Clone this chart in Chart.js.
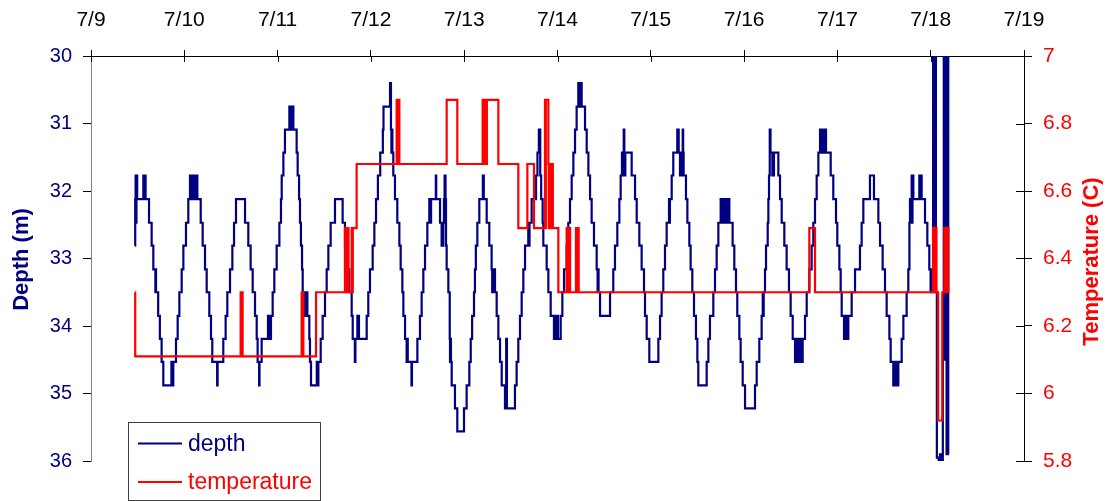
<!DOCTYPE html>
<html>
<head>
<meta charset="utf-8">
<script src="https://cdn.jsdelivr.net/npm/chart.js@4.4.0/dist/chart.umd.min.js"></script>
<style>
html,body{margin:0;padding:0;background:#fff;}
#wrap{position:relative;width:1111px;height:501px;overflow:hidden;}
</style>
</head>
<body>
<div id="wrap"><canvas id="c" width="1111" height="501"></canvas></div>
<script>
// ---- data ----
const dayTicks = [9,10,11,12,13,14,15,16,17,18,19];
const dayTickLabels = ['7/9','7/10','7/11','7/12','7/13','7/14','7/15','7/16','7/17','7/18','7/19'];
const depthTicks = [30,31,32,33,34,35,36];
const tempTicks = [5.8,6,6.2,6.4,6.6,6.8,7];
const tempTickLabels = ['5.8','6','6.2','6.4','6.6','6.8','7'];
const seriesNames = ['depth','temperature'];

// [day of July, depth m]
const depthPoints = [
[9.472,32.81],[9.474,32.12],[9.478,31.77],[9.483,32.47],[9.487,31.77],[9.495,32.12],[9.561,31.77],[9.565,32.12],[9.569,31.77],[9.585,32.12],
[9.622,32.47],[9.650,32.81],[9.668,33.16],[9.690,33.5],[9.694,33.16],[9.697,33.5],[9.720,33.85],[9.738,34.19],[9.757,34.53],[9.775,34.88],
[9.862,34.53],[9.866,34.88],[9.882,34.53],[9.911,34.19],[9.929,33.85],[9.947,33.5],[9.972,33.16],[9.990,32.81],[10.018,32.47],[10.043,32.12],
[10.061,31.77],[10.068,32.12],[10.072,31.77],[10.085,32.12],[10.089,31.77],[10.100,32.12],[10.104,31.77],[10.118,32.12],[10.122,31.77],[10.140,32.12],
[10.176,32.47],[10.197,32.81],[10.222,33.16],[10.240,33.5],[10.268,33.85],[10.286,34.19],[10.300,34.53],[10.352,34.88],[10.357,34.53],[10.418,34.19],
[10.443,33.85],[10.461,33.5],[10.490,33.16],[10.515,32.81],[10.533,32.47],[10.554,32.12],[10.651,32.47],[10.686,32.81],[10.711,33.16],[10.733,33.5],
[10.758,33.85],[10.776,34.19],[10.786,34.53],[10.802,34.88],[10.806,34.53],[10.829,34.19],[10.897,33.85],[10.901,34.19],[10.905,33.85],[10.909,34.19],
[10.929,33.85],[10.947,33.5],[10.965,33.16],[10.990,32.81],[11.019,32.47],[11.036,32.12],[11.044,31.77],[11.062,31.43],[11.079,31.09],[11.126,30.75],
[11.130,31.09],[11.135,30.75],[11.140,31.09],[11.145,30.75],[11.169,31.09],[11.204,31.43],[11.215,31.77],[11.230,32.12],[11.240,32.47],[11.250,32.81],
[11.262,33.16],[11.269,33.5],[11.280,33.85],[11.285,33.5],[11.295,33.85],[11.300,33.5],[11.319,33.85],[11.340,34.19],[11.347,34.53],[11.358,34.88],
[11.420,34.53],[11.425,34.88],[11.437,34.53],[11.462,34.19],[11.483,33.85],[11.508,33.5],[11.526,33.16],[11.544,32.81],[11.569,32.47],[11.615,32.12],
[11.697,32.47],[11.722,32.81],[11.730,33.16],[11.735,32.81],[11.745,33.16],[11.769,33.5],[11.794,33.85],[11.805,34.19],[11.828,34.53],[11.834,34.19],
[11.855,33.85],[11.860,34.19],[11.865,33.85],[11.872,34.19],[11.955,33.85],[11.972,33.5],[11.990,33.16],[12.019,32.81],[12.037,32.47],[12.055,32.12],
[12.075,31.77],[12.100,31.43],[12.128,31.09],[12.135,30.75],[12.205,30.4],[12.215,31.09],[12.220,31.43],[12.225,31.09],[12.230,31.43],[12.240,31.77],
[12.258,32.12],[12.283,32.47],[12.305,32.81],[12.319,33.16],[12.337,33.5],[12.348,33.85],[12.366,34.19],[12.383,34.53],[12.390,34.19],[12.395,34.53],
[12.435,34.88],[12.440,34.53],[12.498,34.19],[12.526,33.85],[12.544,33.5],[12.562,33.16],[12.580,32.81],[12.605,32.47],[12.626,32.12],[12.630,32.47],
[12.635,32.12],[12.640,32.47],[12.645,32.12],[12.696,31.77],[12.700,32.12],[12.741,32.47],[12.758,32.81],[12.776,32.47],[12.783,32.12],[12.790,31.77],
[12.800,32.12],[12.805,32.81],[12.812,33.16],[12.830,33.5],[12.845,34.19],[12.848,34.53],[12.853,34.19],[12.858,34.53],[12.866,34.88],[12.901,35.22],
[12.926,35.56],[12.998,35.22],[13.026,34.88],[13.055,34.53],[13.070,34.19],[13.085,33.85],[13.105,33.5],[13.115,33.16],[13.125,32.81],[13.141,32.47],
[13.162,32.12],[13.200,31.77],[13.210,32.12],[13.241,32.47],[13.269,32.81],[13.294,33.16],[13.300,33.5],[13.310,33.16],[13.330,33.5],[13.348,33.85],
[13.366,34.19],[13.384,34.53],[13.402,34.88],[13.437,35.22],[13.450,34.19],[13.458,35.22],[13.544,34.88],[13.562,34.53],[13.580,34.19],[13.598,33.85],
[13.616,33.5],[13.634,33.16],[13.652,32.81],[13.687,32.47],[13.692,32.81],[13.700,32.47],[13.723,32.12],[13.770,31.77],[13.785,31.43],[13.800,31.09],
[13.815,31.77],[13.825,32.12],[13.841,32.47],[13.848,32.81],[13.884,33.16],[13.902,33.5],[13.927,33.85],[13.962,34.19],[13.970,33.85],[13.975,34.19],
[13.985,33.85],[13.990,34.19],[14.000,33.85],[14.005,34.19],[14.034,33.85],[14.052,33.5],[14.070,33.16],[14.098,32.81],[14.116,32.47],[14.134,32.12],
[14.152,31.77],[14.170,31.43],[14.188,31.09],[14.205,30.75],[14.223,30.4],[14.230,30.75],[14.235,30.4],[14.245,30.75],[14.250,30.4],[14.259,30.75],
[14.295,31.09],[14.313,31.43],[14.331,31.77],[14.349,32.12],[14.366,32.47],[14.391,32.81],[14.420,33.16],[14.430,33.5],[14.435,33.16],[14.440,33.5],
[14.456,33.85],[14.563,33.5],[14.598,33.16],[14.616,32.81],[14.641,32.47],[14.663,32.12],[14.677,31.77],[14.691,31.43],[14.696,31.77],[14.700,31.43],
[14.705,31.77],[14.710,31.09],[14.716,31.43],[14.722,31.77],[14.727,31.43],[14.795,31.77],[14.831,32.12],[14.849,32.47],[14.877,32.81],[14.902,33.16],
[14.927,33.5],[14.938,33.85],[14.956,34.19],[14.984,34.53],[15.081,34.19],[15.099,33.85],[15.116,33.5],[15.134,33.16],[15.152,32.81],[15.170,32.47],
[15.195,32.12],[15.200,32.47],[15.205,32.12],[15.224,31.77],[15.241,31.43],[15.284,31.09],[15.299,31.43],[15.313,31.77],[15.318,31.43],[15.324,31.77],
[15.330,31.43],[15.342,31.09],[15.347,31.43],[15.352,31.77],[15.377,32.12],[15.392,32.47],[15.413,32.81],[15.427,33.16],[15.445,33.5],[15.463,33.85],
[15.484,34.19],[15.499,34.53],[15.509,34.88],[15.599,34.53],[15.617,34.19],[15.634,33.85],[15.670,33.5],[15.688,33.16],[15.706,32.81],[15.724,32.47],
[15.749,32.12],[15.755,32.47],[15.760,32.12],[15.766,32.47],[15.772,32.12],[15.778,32.47],[15.784,32.12],[15.790,32.47],[15.796,32.12],[15.802,32.47],
[15.808,32.12],[15.814,32.47],[15.820,32.12],[15.826,32.47],[15.832,32.12],[15.842,32.47],[15.877,32.81],[15.895,33.16],[15.913,33.5],[15.927,33.85],
[15.949,34.19],[15.963,34.53],[15.985,34.88],[16.010,35.22],[16.117,34.88],[16.135,34.53],[16.163,34.19],[16.188,33.85],[16.200,33.5],[16.205,33.85],
[16.210,33.5],[16.224,33.16],[16.235,32.81],[16.253,32.47],[16.260,32.12],[16.267,31.77],[16.275,31.09],[16.283,31.43],[16.303,31.77],[16.320,31.43],
[16.367,31.77],[16.385,32.12],[16.403,32.47],[16.431,32.81],[16.456,33.16],[16.481,33.5],[16.499,33.85],[16.521,34.19],[16.546,34.53],[16.560,34.19],
[16.565,34.53],[16.580,34.19],[16.585,34.53],[16.600,34.19],[16.605,34.53],[16.628,34.19],[16.653,33.85],[16.671,33.5],[16.699,33.16],[16.724,32.81],
[16.742,32.47],[16.760,32.12],[16.778,31.77],[16.796,31.43],[16.814,31.09],[16.820,31.43],[16.825,31.09],[16.835,31.43],[16.842,31.09],[16.850,31.43],
[16.855,31.09],[16.878,31.43],[16.928,31.77],[16.956,32.12],[16.985,32.47],[16.999,32.81],[17.021,33.16],[17.035,33.5],[17.046,33.85],[17.071,34.19],
[17.076,33.85],[17.081,34.19],[17.086,33.85],[17.091,34.19],[17.096,33.85],[17.101,34.19],[17.106,33.85],[17.111,34.19],[17.117,33.85],[17.153,33.5],
[17.189,33.16],[17.242,32.81],[17.260,32.47],[17.278,32.12],[17.349,31.77],[17.392,32.12],[17.439,32.47],[17.457,32.81],[17.485,33.16],[17.510,33.5],
[17.528,33.85],[17.557,34.19],[17.571,34.53],[17.599,34.88],[17.604,34.53],[17.609,34.88],[17.614,34.53],[17.619,34.88],[17.624,34.53],[17.629,34.88],
[17.634,34.53],[17.639,34.88],[17.644,34.53],[17.649,34.88],[17.653,34.53],[17.689,34.19],[17.707,33.85],[17.742,33.5],[17.760,33.16],[17.772,32.47],
[17.778,32.12],[17.796,31.77],[17.800,32.47],[17.805,31.77],[17.814,32.12],[17.878,31.77],[17.885,32.12],[17.890,31.77],[17.903,32.12],[17.939,32.47],
[17.964,32.81],[17.985,33.16],[17.999,33.5],[18.022,33.16],[18.026,29],[18.030,33.5],[18.034,29],[18.040,32.81],[18.046,29],[18.056,33.5],
[18.066,35.95],[18.085,36.0],[18.100,35.9],[18.120,36.0],[18.130,34.5],[18.140,29],[18.150,34.5],[18.158,29],[18.170,35.9],[18.178,29],
[18.188,35.9],[18.195,35.9]
];

// [day of July, temperature C]
const tempPoints = [
[9.472,6.3],[9.474,6.11],[10.604,6.3],[10.608,6.11],[10.612,6.3],[10.616,6.11],[10.620,6.3],[10.625,6.11],[11.258,6.3],[11.262,6.11],
[11.270,6.3],[11.276,6.11],[11.412,6.3],[11.722,6.49],[11.727,6.3],[11.732,6.49],[11.737,6.3],[11.742,6.49],[11.748,6.3],[11.755,6.49],
[11.760,6.3],[11.794,6.49],[11.800,6.3],[11.806,6.49],[11.847,6.68],[12.276,6.87],[12.281,6.68],[12.286,6.87],[12.305,6.68],[12.812,6.87],
[12.926,6.68],[13.198,6.87],[13.205,6.68],[13.212,6.87],[13.236,6.68],[13.243,6.87],[13.366,6.68],[13.580,6.49],[13.677,6.68],[13.748,6.49],
[13.866,6.87],[13.870,6.49],[13.875,6.87],[13.902,6.68],[13.906,6.49],[13.911,6.68],[13.916,6.49],[13.921,6.68],[13.927,6.49],[13.932,6.68],
[13.938,6.49],[13.943,6.68],[13.950,6.49],[14.009,6.3],[14.098,6.49],[14.103,6.3],[14.112,6.49],[14.117,6.3],[14.130,6.49],[14.135,6.3],
[14.198,6.49],[14.203,6.3],[14.210,6.49],[14.215,6.3],[14.222,6.49],[14.227,6.3],[16.699,6.49],[16.760,6.3],[18.025,6.49],[18.030,6.3],
[18.035,6.49],[18.040,6.3],[18.045,6.49],[18.050,6.3],[18.055,6.49],[18.062,6.3],[18.080,5.92],[18.124,6.3],[18.146,6.49],[18.152,6.3],
[18.158,6.49],[18.164,6.3],[18.170,6.49],[18.176,6.3],[18.182,6.49],[18.190,6.3],[18.198,6.3]
];

const DEPTH_COLOR = '#000080';
const TEMP_COLOR = '#FF0000';
const FONT = '"Liberation Sans", Arial, sans-serif';
Chart.defaults.font.family = FONT;

const decor = {
  id: 'decor',
  afterDraw(chart) {
    const ctx = chart.ctx, a = chart.chartArea;
    const xs = chart.scales.x, yr = chart.scales.yTemp;
    ctx.save();
    // inner halves of tick marks (top and right axes cross the axis line)
    ctx.strokeStyle = '#000';
    ctx.lineWidth = 1;
    ctx.beginPath();
    dayTicks.forEach(v => {
      const px = Math.round(xs.getPixelForValue(v)) + 0.5;
      ctx.moveTo(px, a.top); ctx.lineTo(px, a.top + 6);
    });
    tempTicks.forEach(v => {
      const py = Math.round(yr.getPixelForValue(v)) + 0.5;
      ctx.moveTo(a.right, py); ctx.lineTo(a.right - 8, py);
    });
    ctx.stroke();

    // axis titles
    ctx.font = 'bold 22px ' + FONT;
    ctx.textAlign = 'center';
    ctx.textBaseline = 'middle';
    ctx.save();
    ctx.translate(22, (a.top + a.bottom) / 2 + 1);
    ctx.rotate(-Math.PI / 2);
    ctx.fillStyle = DEPTH_COLOR;
    ctx.fillText('Depth (m)', 0, 0);
    ctx.restore();
    ctx.save();
    ctx.translate(1092, (a.top + a.bottom) / 2 + 3);
    ctx.rotate(-Math.PI / 2);
    ctx.fillStyle = TEMP_COLOR;
    ctx.fillText('Temperature (C)', 0, 0);
    ctx.restore();

    // legend box
    ctx.fillStyle = '#fff';
    ctx.fillRect(129, 423, 191, 78);
    ctx.strokeStyle = '#404040';
    ctx.lineWidth = 1;
    ctx.strokeRect(128.5, 422.5, 192, 78);
    const rows = [443.5, 482];
    const colors = [DEPTH_COLOR, TEMP_COLOR];
    ctx.font = '23px ' + FONT;
    ctx.textAlign = 'left';
    ctx.textBaseline = 'alphabetic';
    chart.data.datasets.forEach((ds, i) => {
      ctx.strokeStyle = colors[i];
      ctx.lineWidth = 2;
      ctx.beginPath();
      ctx.moveTo(138, rows[i]); ctx.lineTo(182, rows[i]);
      ctx.stroke();
      ctx.fillStyle = colors[i];
      ctx.fillText(ds.label, 188, rows[i] + 7);
    });
    ctx.restore();
  }
};

new Chart(document.getElementById('c'), {
  type: 'line',
  data: {
    datasets: [
      {
        label: seriesNames[0],
        data: depthPoints.map(p => ({x: p[0], y: p[1]})),
        yAxisID: 'yDepth',
        borderColor: DEPTH_COLOR,
        borderWidth: 2.2,
        pointRadius: 0,
        stepped: 'before',
        fill: false,
        order: 1
      },
      {
        label: seriesNames[1],
        data: tempPoints.map(p => ({x: p[0], y: p[1]})),
        yAxisID: 'yTemp',
        borderColor: TEMP_COLOR,
        borderWidth: 2.2,
        pointRadius: 0,
        stepped: 'before',
        fill: false,
        order: 0
      }
    ]
  },
  options: {
    responsive: false,
    animation: false,
    devicePixelRatio: 1,
    layout: { padding: { left: 0, right: 0, top: 0, bottom: 40 } },
    plugins: { legend: { display: false }, tooltip: { enabled: false } },
    scales: {
      x: {
        type: 'linear', position: 'top', min: 9, max: 19,
        afterBuildTicks: s => { s.ticks = dayTicks.map(v => ({value: v})); },
        afterFit: s => { s.height = 56; },
        ticks: {
          autoSkip: false, maxRotation: 0, padding: 17, color: '#000',
          font: { size: 21 },
          callback: (v, i) => dayTickLabels[i]
        },
        grid: { drawOnChartArea: false, drawTicks: true, tickLength: 6, color: '#000', lineWidth: 1 },
        border: { display: true, color: '#000', width: 1 }
      },
      yDepth: {
        type: 'linear', position: 'left', reverse: true, min: 30, max: 36,
        afterBuildTicks: s => { s.ticks = depthTicks.map(v => ({value: v})); },
        afterFit: s => { s.width = 91; },
        ticks: { padding: 11, color: DEPTH_COLOR, font: { size: 20 }, callback: v => String(v) },
        grid: { drawOnChartArea: false, drawTicks: true, tickLength: 8, color: '#000', lineWidth: 1 },
        border: { display: true, color: '#808080', width: 1 }
      },
      yTemp: {
        type: 'linear', position: 'right', min: 5.8, max: 7,
        afterBuildTicks: s => { s.ticks = tempTicks.map(v => ({value: v})); },
        afterFit: s => { s.width = 87; },
        ticks: { padding: 11, color: TEMP_COLOR, font: { size: 21 }, callback: (v, i) => tempTickLabels[i] },
        grid: { drawOnChartArea: false, drawTicks: true, tickLength: 8, color: '#000', lineWidth: 1 },
        border: { display: true, color: '#000', width: 1 }
      }
    }
  },
  plugins: [decor]
});
</script>
</body>
</html>
